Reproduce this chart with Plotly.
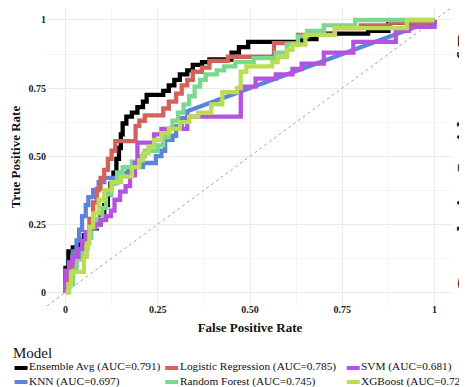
import plotly.graph_objects as go

# ---------------- data ----------------
models = ["Ensemble Avg", "KNN", "Logistic Regression", "Random Forest", "SVM", "XGBoost"]
auc_values = [0.791, 0.697, 0.785, 0.745, 0.681, 0.720]

roc_ensemble = [(0, 0), (0, 0.09), (0.008, 0.09), (0.008, 0.15), (0.02, 0.15), (0.02, 0.165), (0.035, 0.165),
                (0.035, 0.19), (0.05, 0.19), (0.05, 0.21), (0.065, 0.21), (0.065, 0.235), (0.085, 0.235),
                (0.085, 0.25), (0.095, 0.25), (0.095, 0.29), (0.105, 0.29), (0.105, 0.32), (0.115, 0.32),
                (0.115, 0.36), (0.122, 0.36), (0.122, 0.4), (0.13, 0.4), (0.13, 0.44), (0.138, 0.44),
                (0.138, 0.49), (0.145, 0.49), (0.145, 0.53), (0.15, 0.53), (0.15, 0.58), (0.155, 0.58),
                (0.155, 0.62), (0.165, 0.62), (0.165, 0.645), (0.18, 0.645), (0.18, 0.66), (0.195, 0.66),
                (0.195, 0.68), (0.21, 0.68), (0.21, 0.7), (0.22, 0.7), (0.22, 0.725), (0.265, 0.725),
                (0.265, 0.74), (0.28, 0.74), (0.28, 0.76), (0.295, 0.76), (0.295, 0.78), (0.31, 0.78),
                (0.31, 0.8), (0.33, 0.8), (0.33, 0.815), (0.345, 0.815), (0.345, 0.835), (0.37, 0.835),
                (0.37, 0.845), (0.39, 0.845), (0.39, 0.855), (0.45, 0.855), (0.45, 0.88), (0.47, 0.88),
                (0.47, 0.9), (0.495, 0.9), (0.495, 0.92), (0.64, 0.92), (0.64, 0.93), (0.68, 0.93),
                (0.68, 0.95), (0.82, 0.95), (0.82, 0.96), (0.875, 0.96), (0.875, 0.99), (1, 0.99), (1, 1)]

roc_knn = [(0, 0), (0, 0.03), (0.005, 0.03), (0.005, 0.07), (0.012, 0.07), (0.012, 0.11), (0.02, 0.11),
           (0.02, 0.15), (0.03, 0.15), (0.03, 0.19), (0.037, 0.19), (0.037, 0.23), (0.045, 0.23),
           (0.045, 0.28), (0.055, 0.28), (0.055, 0.32), (0.062, 0.32), (0.062, 0.35), (0.075, 0.35),
           (0.075, 0.375), (0.09, 0.375), (0.09, 0.405), (0.105, 0.405), (0.105, 0.42), (0.14, 0.42),
           (0.14, 0.44), (0.17, 0.44), (0.17, 0.46), (0.21, 0.46), (0.21, 0.475), (0.245, 0.475),
           (0.245, 0.5), (0.26, 0.5), (0.26, 0.52), (0.27, 0.52), (0.27, 0.56), (0.29, 0.56),
           (0.29, 0.575), (0.3, 0.575), (0.3, 0.61), (0.315, 0.61), (0.315, 0.64), (0.33, 0.64),
           (0.33, 0.665), (1, 1)]

roc_logreg = [(0, 0), (0, 0.03), (0.01, 0.03), (0.01, 0.06), (0.02, 0.06), (0.02, 0.1), (0.03, 0.1),
              (0.03, 0.14), (0.045, 0.14), (0.045, 0.18), (0.055, 0.18), (0.055, 0.22), (0.065, 0.22),
              (0.065, 0.27), (0.075, 0.27), (0.075, 0.33), (0.085, 0.33), (0.085, 0.38), (0.095, 0.38),
              (0.095, 0.42), (0.105, 0.42), (0.105, 0.45), (0.115, 0.45), (0.115, 0.49), (0.125, 0.49),
              (0.125, 0.52), (0.135, 0.52), (0.135, 0.555), (0.19, 0.555), (0.19, 0.61), (0.2, 0.61),
              (0.2, 0.63), (0.215, 0.63), (0.215, 0.65), (0.265, 0.65), (0.265, 0.675), (0.28, 0.675),
              (0.28, 0.7), (0.3, 0.7), (0.3, 0.73), (0.315, 0.73), (0.315, 0.76), (0.33, 0.76),
              (0.33, 0.78), (0.345, 0.78), (0.345, 0.81), (0.37, 0.81), (0.37, 0.825), (0.39, 0.825),
              (0.39, 0.85), (0.44, 0.85), (0.44, 0.865), (0.565, 0.865), (0.565, 0.915), (0.63, 0.915),
              (0.63, 0.945), (0.73, 0.945), (0.73, 0.97), (0.8, 0.97), (0.8, 0.98), (0.88, 0.98),
              (0.88, 0.99), (1, 0.99), (1, 1)]

roc_rf = [(0, 0), (0.01, 0), (0.01, 0.03), (0.02, 0.03), (0.02, 0.08), (0.03, 0.08), (0.03, 0.12),
          (0.045, 0.12), (0.045, 0.16), (0.06, 0.16), (0.06, 0.2), (0.07, 0.2), (0.07, 0.24),
          (0.085, 0.24), (0.085, 0.27), (0.1, 0.27), (0.1, 0.31), (0.11, 0.31), (0.11, 0.36),
          (0.125, 0.36), (0.125, 0.4), (0.14, 0.4), (0.14, 0.44), (0.155, 0.44), (0.155, 0.46),
          (0.18, 0.46), (0.18, 0.48), (0.2, 0.48), (0.2, 0.5), (0.215, 0.5), (0.215, 0.52),
          (0.25, 0.52), (0.25, 0.54), (0.265, 0.54), (0.265, 0.57), (0.28, 0.57), (0.28, 0.6),
          (0.29, 0.6), (0.29, 0.63), (0.305, 0.63), (0.305, 0.66), (0.32, 0.66), (0.32, 0.69),
          (0.335, 0.69), (0.335, 0.72), (0.35, 0.72), (0.35, 0.755), (0.365, 0.755), (0.365, 0.78),
          (0.38, 0.78), (0.38, 0.8), (0.41, 0.8), (0.41, 0.815), (0.43, 0.815), (0.43, 0.83),
          (0.46, 0.83), (0.46, 0.845), (0.51, 0.845), (0.51, 0.86), (0.57, 0.86), (0.57, 0.88),
          (0.6, 0.88), (0.6, 0.91), (0.63, 0.91), (0.63, 0.94), (0.655, 0.94), (0.655, 0.96),
          (0.7, 0.96), (0.7, 0.98), (0.785, 0.98), (0.785, 1), (1, 1)]

roc_svm = [(0, 0), (0, 0.08), (0.01, 0.08), (0.01, 0.11), (0.02, 0.11), (0.02, 0.13), (0.035, 0.13),
           (0.035, 0.16), (0.045, 0.16), (0.045, 0.19), (0.055, 0.19), (0.055, 0.22), (0.065, 0.22),
           (0.065, 0.235), (0.08, 0.235), (0.08, 0.25), (0.095, 0.25), (0.095, 0.265), (0.11, 0.265),
           (0.11, 0.28), (0.123, 0.28), (0.123, 0.3), (0.133, 0.3), (0.133, 0.34), (0.148, 0.34),
           (0.148, 0.37), (0.163, 0.37), (0.163, 0.39), (0.175, 0.39), (0.175, 0.43), (0.188, 0.43),
           (0.188, 0.475), (0.195, 0.475), (0.195, 0.55), (0.24, 0.55), (0.24, 0.58), (0.26, 0.58),
           (0.26, 0.6), (0.33, 0.6), (0.33, 0.645), (0.475, 0.645), (0.475, 0.755), (0.515, 0.755),
           (0.515, 0.785), (0.57, 0.785), (0.57, 0.8), (0.615, 0.8), (0.615, 0.82), (0.64, 0.82),
           (0.64, 0.84), (0.7, 0.84), (0.7, 0.88), (0.78, 0.88), (0.78, 0.92), (0.895, 0.92),
           (0.895, 0.96), (0.93, 0.96), (0.93, 0.975), (1, 0.975), (1, 1)]

roc_xgb = [(0, 0), (0.008, 0), (0.008, 0.03), (0.015, 0.03), (0.015, 0.075), (0.05, 0.075),
           (0.05, 0.13), (0.058, 0.13), (0.058, 0.18), (0.065, 0.18), (0.065, 0.24), (0.075, 0.24),
           (0.075, 0.29), (0.09, 0.29), (0.09, 0.34), (0.105, 0.34), (0.105, 0.375), (0.125, 0.375),
           (0.125, 0.405), (0.15, 0.405), (0.15, 0.425), (0.18, 0.425), (0.18, 0.46), (0.2, 0.46),
           (0.2, 0.485), (0.21, 0.485), (0.21, 0.51), (0.225, 0.51), (0.225, 0.535), (0.24, 0.535),
           (0.24, 0.56), (0.26, 0.56), (0.26, 0.585), (0.28, 0.585), (0.28, 0.6), (0.31, 0.6),
           (0.31, 0.625), (0.335, 0.625), (0.335, 0.645), (0.36, 0.645), (0.36, 0.66), (0.395, 0.66),
           (0.395, 0.69), (0.425, 0.69), (0.425, 0.735), (0.465, 0.735), (0.465, 0.75), (0.475, 0.75),
           (0.475, 0.81), (0.49, 0.81), (0.49, 0.83), (0.56, 0.83), (0.56, 0.845), (0.575, 0.845),
           (0.575, 0.865), (0.6, 0.865), (0.6, 0.89), (0.615, 0.89), (0.615, 0.91), (0.65, 0.91),
           (0.65, 0.945), (0.73, 0.945), (0.73, 0.97), (0.925, 0.97), (0.925, 1), (1, 1)]

roc_curves = [roc_ensemble, roc_knn, roc_logreg, roc_rf, roc_svm, roc_xgb]

x_range = [-0.05, 1.05]
y_range = [-0.05, 1.044]
chance_line = [-0.05, 1.05]
tick_values = [0, 0.25, 0.5, 0.75, 1]
tick_labels = ["0", "0.25", "0.50", "0.75", "1"]
minor_tick_values = [0.125, 0.375, 0.625, 0.875]

# ---------------- styling / layout ----------------
colors = ["#000000", "#5B84DC", "#D4625C", "#7AD98F", "#B552E0", "#BDDC55"]
FONT = "Liberation Serif"
OFF = 8                      # page offset of the figure (default body margin)
W, H = 467, 387
ML, MR, MT, MB = 38.5, 21.5, 0, 89.4
PW, PH = W - ML - MR, H - MT - MB


def px_x(px):
    """page pixel x -> paper fraction"""
    return (px - OFF - ML) / PW


def px_y(py):
    """page pixel y -> paper fraction"""
    return (H - MB - (py - OFF)) / PH


fig = go.Figure()
# chance diagonal across the whole panel (drawn first, under the curves)
fig.add_trace(go.Scatter(x=chance_line, y=chance_line, mode="lines", hoverinfo="skip",
                         line=dict(color="#9A9A9A", width=0.9, dash="dot"), showlegend=False))
for name, pts, col, a in zip(models, roc_curves, colors, auc_values):
    fig.add_trace(go.Scatter(
        x=[p[0] for p in pts], y=[p[1] for p in pts], mode="lines",
        name=f"{name} (AUC={a:.3f})",
        line=dict(color=col, width=4.3), showlegend=False,
    ))

axis_common = dict(
    tickvals=tick_values, ticktext=tick_labels, automargin=False,
    showgrid=True, gridcolor="#EBEBEB", gridwidth=1, zeroline=False, showline=False,
    ticks="", tickfont=dict(family=FONT, size=10, color="#222", weight="bold"),
    minor=dict(tickvals=minor_tick_values, showgrid=True, gridcolor="#F5F5F5", gridwidth=1),
)
fig.update_xaxes(**axis_common, range=x_range, ticklabelstandoff=-4,
                 title=dict(text="False Positive Rate", standoff=8,
                            font=dict(family=FONT, size=13, color="#111", weight="bold")))
fig.update_yaxes(**axis_common, range=y_range,
                 title=dict(text="True Positive Rate", standoff=4.5,
                            font=dict(family=FONT, size=13, color="#111", weight="bold")))

annotations = []
shapes = []
# legend (ggplot-like: title on top, 2 rows filled by column)
annotations.append(dict(text="Model", xref="paper", yref="paper", x=px_x(10), y=px_y(353),
                        xanchor="left", yanchor="middle", showarrow=False,
                        font=dict(family=FONT, size=15, color="#111")))
col_key_x = [14, 165, 347]
row_y = [366.5, 380.5]
for i, (name, col, a) in enumerate(zip(models, colors, auc_values)):
    c, r = i // 2, i % 2
    kx = col_key_x[c]
    ky = row_y[r] + 1
    shapes.append(dict(type="rect", xref="paper", yref="paper",
                       x0=px_x(kx), x1=px_x(kx + 13), y0=px_y(ky - 2), y1=px_y(ky + 2),
                       fillcolor=col, line=dict(width=0)))
    annotations.append(dict(text=f"{name} (AUC={a:.3f})", xref="paper", yref="paper",
                            x=px_x(kx + 12.5), y=px_y(row_y[r]), xanchor="left", yanchor="middle",
                            showarrow=False, font=dict(family=FONT, size=11.3, color="#111")))

# clipped title of the neighbouring panel at the right edge
annotations.append(dict(text="Cumulative Incidence of Recurrence", xref="paper", yref="paper",
                        x=px_x(452), y=px_y(295), xanchor="left", yanchor="bottom",
                        textangle=-90, showarrow=False,
                        font=dict(family=FONT, size=23, color="#111", weight="bold")))

fig.update_layout(
    template="none",
    width=W, height=H, margin=dict(l=ML, r=MR, t=MT, b=MB, pad=0, autoexpand=False),
    paper_bgcolor="white", plot_bgcolor="white",
    annotations=annotations, shapes=shapes, showlegend=False,
    font=dict(family=FONT),
)

fig.write_html("out.html")
